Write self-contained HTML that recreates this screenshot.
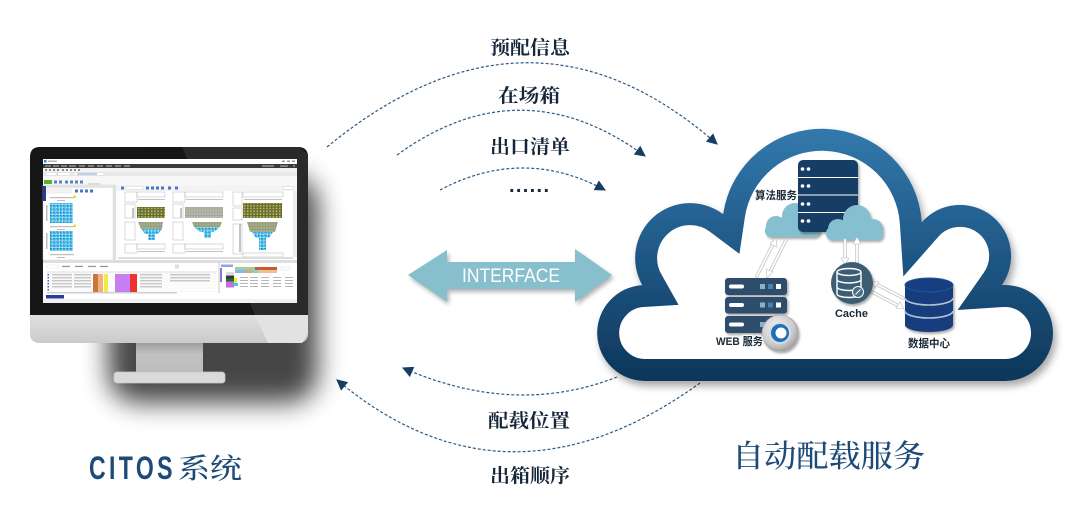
<!DOCTYPE html>
<html><head><meta charset="utf-8"><style>
html,body{margin:0;padding:0;background:#fff;width:1065px;height:527px;overflow:hidden}
svg{display:block}
</style></head><body>
<svg width="1065" height="527" viewBox="0 0 1065 527" xmlns="http://www.w3.org/2000/svg">
<defs>
<filter id="blur" x="-50%" y="-50%" width="200%" height="200%"><feGaussianBlur stdDeviation="13"/></filter>
<filter id="blur2" x="-20%" y="-20%" width="140%" height="140%"><feGaussianBlur stdDeviation="2"/></filter>
<filter id="ds" x="-10%" y="-10%" width="125%" height="130%"><feDropShadow dx="3" dy="5" stdDeviation="4" flood-color="#000" flood-opacity="0.35"/></filter>
<filter id="ds2" x="-20%" y="-20%" width="150%" height="150%"><feDropShadow dx="1.5" dy="2" stdDeviation="1.2" flood-color="#000" flood-opacity="0.35"/></filter>
<linearGradient id="cg" gradientUnits="userSpaceOnUse" x1="0" y1="129" x2="0" y2="381">
<stop offset="0" stop-color="#3279ab"/><stop offset="0.45" stop-color="#215b8a"/><stop offset="1" stop-color="#0d365a"/></linearGradient>
<linearGradient id="chin" x1="0" y1="0" x2="0" y2="1"><stop offset="0" stop-color="#e0e0e0"/><stop offset="1" stop-color="#cacaca"/></linearGradient>
<linearGradient id="neck" x1="0" y1="0" x2="0" y2="1"><stop offset="0" stop-color="#9e9e9e"/><stop offset="0.4" stop-color="#c2c2c2"/><stop offset="1" stop-color="#bcbcbc"/></linearGradient>
<radialGradient id="btn" cx="0.4" cy="0.35" r="0.7"><stop offset="0" stop-color="#f4f4f4"/><stop offset="0.7" stop-color="#c8c8c8"/><stop offset="1" stop-color="#9a9a9a"/></radialGradient>
<marker id="ah" viewBox="0 0 10 10" refX="9" refY="5" markerWidth="12" markerHeight="11" markerUnits="userSpaceOnUse" orient="auto"><path d="M0,0 L10,5 L0,10 z" fill="#163e62" stroke="none"/></marker>
<clipPath id="cc"><path d="M646 381 A48 48 0 0 1 642.2 285.1 A55 55 0 0 1 723.1 214.1 A100 100 0 0 1 921.8 222.2 A51 51 0 0 1 1001.9 285.1 A48 48 0 1 1 1005 381 Z"/></clipPath>
<pattern id="pc" width="3.3" height="3.3" patternUnits="userSpaceOnUse"><rect width="3.3" height="3.3" fill="#fff"/><rect x="0.3" y="0.3" width="2.8" height="2.8" fill="#2ab5e5"/><rect x="0.3" y="0.3" width="1.2" height="1.2" fill="#1a6cb5"/></pattern>
<pattern id="po" width="3.2" height="2.8" patternUnits="userSpaceOnUse"><rect width="3.2" height="2.8" fill="#5e5e22"/><rect x="0.3" y="0.3" width="2.5" height="2" fill="#9a9a40"/><rect x="0.8" y="0.8" width="1" height="1" fill="#e0d840"/><rect x="2" y="0.8" width="0.8" height="1" fill="#3a70c0"/></pattern>
<pattern id="pg" width="3.2" height="2.8" patternUnits="userSpaceOnUse"><rect width="3.2" height="2.8" fill="#9a9a94"/><rect x="0.3" y="0.3" width="2.5" height="2" fill="#cfcfc8"/><rect x="1" y="0.8" width="1" height="1" fill="#8a8a50"/></pattern>
<pattern id="py" width="3.2" height="2.8" patternUnits="userSpaceOnUse"><rect width="3.2" height="2.8" fill="#8c8c60"/><rect x="0.3" y="0.3" width="2.5" height="2" fill="#c8c890"/><rect x="1" y="0.8" width="1" height="1" fill="#3a80c8"/></pattern>
</defs>

<!-- ============ MONITOR ============ -->
<rect x="108" y="175" width="210" height="228" rx="30" fill="#000" opacity="0.72" filter="url(#blur)"/>
<path d="M30 157 Q30 147 40 147 H298 Q308 147 308 157 V315 H30 Z" fill="#161616"/>
<polygon points="182,147 299,147 308,154 308,315 255,315" fill="#2a2a2a"/>
<path d="M30 315 H308 V333 Q308 343 298 343 H40 Q30 343 30 333 Z" fill="url(#chin)"/>
<polygon points="255,315 308,315 308,333 302,343 268,343" fill="#e2e2e2"/>
<rect x="136" y="343" width="67" height="29" fill="url(#neck)"/>
<rect x="114" y="372" width="111" height="11" rx="3" fill="#dadada" stroke="#c6c6c6" stroke-width="0.8"/>

<!-- screen -->
<rect x="43" y="159" width="254" height="144" fill="#fff"/>
<rect x="44" y="160" width="2.5" height="2.5" fill="#3a7bd5"/>
<rect x="48" y="160.6" width="9" height="1.3" fill="#aaa"/>
<rect x="282" y="160.6" width="3" height="1.3" fill="#888"/><rect x="287" y="160.6" width="3" height="1.3" fill="#888"/><rect x="292" y="160.6" width="3" height="1.3" fill="#888"/>
<rect x="43" y="164" width="254" height="4" fill="#3b3b3b"/>
<g fill="#9a9a9a">
<rect x="45" y="165.3" width="6" height="1.4"/><rect x="53" y="165.3" width="6" height="1.4"/><rect x="61" y="165.3" width="6" height="1.4"/><rect x="69" y="165.3" width="7" height="1.4"/><rect x="79" y="165.3" width="6" height="1.4"/><rect x="88" y="165.3" width="6" height="1.4"/><rect x="97" y="165.3" width="6" height="1.4"/><rect x="106" y="165.3" width="6" height="1.4"/><rect x="115" y="165.3" width="6" height="1.4"/><rect x="124" y="165.3" width="6" height="1.4"/><rect x="262" y="165.3" width="12" height="1.4"/><rect x="280" y="165.3" width="8" height="1.4"/><rect x="293" y="165.3" width="2" height="1.4"/>
</g>
<rect x="43" y="168" width="254" height="4" fill="#f2f2f2"/>
<g fill="#8a8a8a"><rect x="45" y="169" width="2" height="2"/><rect x="49" y="169" width="2" height="2"/><rect x="53" y="169" width="2" height="2"/><rect x="57" y="169" width="2" height="2"/><rect x="62" y="169" width="2" height="2"/><rect x="66" y="169" width="2" height="2"/><rect x="70" y="169" width="2" height="2"/><rect x="74" y="169" width="2" height="2"/><rect x="78" y="169" width="2" height="2"/></g>
<rect x="43" y="172" width="254" height="4" fill="#e9e9e9"/>
<rect x="46" y="172.5" width="10" height="3" fill="#fff" stroke="#bbb" stroke-width="0.3"/>
<rect x="58" y="172.5" width="12" height="3" fill="#fff" stroke="#bbb" stroke-width="0.3"/>
<rect x="74" y="172.5" width="30" height="3" fill="#fff" stroke="#bbb" stroke-width="0.3"/><rect x="77" y="173.5" width="20" height="1" fill="#7aa0e0"/>
<rect x="43" y="176" width="254" height="9" fill="#f7f7f7"/>
<rect x="44" y="180" width="8" height="4" fill="#55b52a"/>
<g fill="#5a7fc8"><rect x="54" y="180.5" width="3" height="3"/><rect x="59" y="180.5" width="3" height="3"/><rect x="65" y="180.5" width="3" height="3"/><rect x="70" y="180.5" width="3" height="3"/><rect x="75" y="180.5" width="3" height="3"/><rect x="80" y="180.5" width="3" height="3"/></g>
<!-- left panel -->
<rect x="43" y="185" width="70" height="75" fill="#fff" stroke="#cfcfcf" stroke-width="0.4"/>
<rect x="43" y="185" width="70" height="3" fill="#e4e4e4"/>
<rect x="43" y="186" width="3" height="15" fill="#2a3aa0"/>
<rect x="47" y="189" width="24" height="4" fill="#f4f4f4" stroke="#ccc" stroke-width="0.3"/>
<g fill="#4a74c8"><rect x="75" y="189.5" width="3" height="3"/><rect x="80" y="189.5" width="3" height="3"/><rect x="85" y="189.5" width="3" height="3"/><rect x="90" y="189.5" width="3" height="3"/></g>
<rect x="88" y="183" width="12" height="2.5" fill="#ddd"/>
<g fill="#bbb"><rect x="50" y="197" width="24" height="1.2"/><rect x="50" y="226" width="24" height="1.2"/><rect x="50" y="254" width="24" height="1.2"/><rect x="57" y="200" width="8" height="1"/><rect x="57" y="229" width="8" height="1"/><rect x="57" y="257" width="8" height="1"/><rect x="46" y="205" width="1.5" height="16"/><rect x="46" y="233" width="1.5" height="16"/></g>
<rect x="50" y="203" width="23" height="20" fill="url(#pc)"/>
<rect x="50" y="231" width="23" height="20" fill="url(#pc)"/>
<rect x="73.5" y="195.5" width="2.5" height="2.5" fill="#f0e000"/><rect x="73.5" y="224.5" width="2.5" height="2.5" fill="#f0e000"/>
<rect x="113" y="185" width="3" height="75" fill="#e0e0e0"/>
<!-- right area -->
<rect x="116" y="185" width="181" height="6" fill="#f3f3f3"/>
<g fill="#4a74c8"><rect x="121" y="186.5" width="3" height="3"/><rect x="146" y="186.5" width="3" height="3"/><rect x="151" y="186.5" width="3" height="3"/><rect x="156" y="186.5" width="3" height="3"/><rect x="161" y="186.5" width="3" height="3"/><rect x="168" y="186.5" width="3" height="3"/><rect x="175" y="186.5" width="3" height="3"/></g>
<rect x="126" y="186.3" width="17" height="3" fill="#fff" stroke="#bbb" stroke-width="0.3"/>
<rect x="283" y="186.5" width="10" height="3" fill="#fff" stroke="#bbb" stroke-width="0.3"/>
<g fill="none" stroke="#b5b5b5" stroke-width="0.5">
<rect x="125" y="192" width="12" height="10"/><rect x="137" y="192" width="28" height="5"/><rect x="125" y="204" width="10" height="14"/><rect x="125" y="222" width="10" height="18"/><rect x="125" y="244" width="12" height="9"/><rect x="137" y="244" width="28" height="5"/>
<rect x="173" y="192" width="12" height="10"/><rect x="185" y="192" width="38" height="5"/><rect x="173" y="204" width="10" height="14"/><rect x="173" y="222" width="10" height="18"/><rect x="173" y="244" width="12" height="9"/><rect x="185" y="244" width="38" height="5"/>
<rect x="233" y="192" width="9" height="14"/><rect x="243" y="192" width="40" height="5"/><rect x="233" y="208" width="9" height="12"/><rect x="233" y="224" width="9" height="30"/><rect x="243" y="253" width="40" height="4"/>
</g>
<g fill="#c4c4c4"><rect x="138" y="199" width="27" height="1"/><rect x="186" y="199" width="37" height="1"/><rect x="244" y="199" width="38" height="1"/><rect x="138" y="251" width="27" height="1"/><rect x="186" y="251" width="37" height="1"/><rect x="132" y="208" width="2" height="10"/><rect x="180" y="208" width="2" height="10"/><rect x="239" y="224" width="2" height="28"/></g>
<rect x="137" y="207" width="28" height="11" fill="url(#po)"/>
<rect x="185" y="207" width="38" height="11" fill="url(#pg)"/>
<rect x="243" y="203" width="39" height="15" fill="url(#po)"/>
<polygon points="138,222 163,222 162,229 141,229" fill="url(#py)"/>
<polygon points="141,229 162,229 158,234 155,234 155,240 148,240 148,234 145,234" fill="url(#pc)"/>
<polygon points="192,222 222,222 220,227 194,227" fill="url(#py)"/>
<polygon points="194,227 220,227 214,232 211,232 211,238 204,238 204,232 200,232" fill="url(#pc)"/>
<polygon points="247,222 278,222 275,232 250,232" fill="url(#py)"/>
<polygon points="252,232 273,232 269,238 266,238 266,250 259,250 259,238 256,238" fill="url(#pc)"/>
<rect x="293" y="191" width="4" height="66" fill="#ececec"/>
<rect x="118" y="257" width="175" height="2" fill="#ddd"/>
<!-- bottom -->
<rect x="43" y="260" width="254" height="3" fill="#dedede"/>
<rect x="47" y="265" width="12" height="3" fill="#fff" stroke="#ccc" stroke-width="0.3"/>
<g fill="#999"><rect x="62" y="265.8" width="8" height="1.3"/><rect x="75" y="265.8" width="8" height="1.3"/><rect x="88" y="265.8" width="8" height="1.3"/><rect x="100" y="265.8" width="8" height="1.3"/></g>
<rect x="175" y="264.5" width="4" height="4" fill="#ddd"/>
<rect x="47" y="271" width="170" height="2.5" fill="#eee"/>
<g fill="none" stroke="#e2e2e2" stroke-width="0.4"><line x1="47" y1="276" x2="217" y2="276"/><line x1="47" y1="279" x2="217" y2="279"/><line x1="47" y1="282" x2="217" y2="282"/><line x1="47" y1="285" x2="217" y2="285"/><line x1="47" y1="288" x2="217" y2="288"/><line x1="47" y1="291" x2="217" y2="291"/></g>
<g fill="#3a5fc8"><rect x="47.5" y="274" width="1.5" height="1.5"/><rect x="47.5" y="277" width="1.5" height="1.5"/><rect x="47.5" y="280" width="1.5" height="1.5"/><rect x="47.5" y="283" width="1.5" height="1.5"/><rect x="47.5" y="286" width="1.5" height="1.5"/><rect x="47.5" y="289" width="1.5" height="1.5"/></g>
<g fill="#b0b0b0"><rect x="52" y="274.3" width="20" height="1"/><rect x="52" y="277.3" width="20" height="1"/><rect x="52" y="280.3" width="20" height="1"/><rect x="52" y="283.3" width="20" height="1"/><rect x="52" y="286.3" width="20" height="1"/><rect x="74" y="274.3" width="17" height="1"/><rect x="74" y="277.3" width="17" height="1"/><rect x="74" y="280.3" width="17" height="1"/><rect x="74" y="283.3" width="17" height="1"/><rect x="74" y="286.3" width="17" height="1"/><rect x="140" y="274.3" width="22" height="1"/><rect x="140" y="277.3" width="22" height="1"/><rect x="140" y="280.3" width="22" height="1"/><rect x="140" y="283.3" width="22" height="1"/><rect x="140" y="286.3" width="22" height="1"/><rect x="170" y="274.3" width="40" height="1"/><rect x="170" y="277.3" width="40" height="1"/><rect x="170" y="280.3" width="40" height="1"/></g>
<rect x="93" y="274" width="5" height="18" fill="#c8783c"/>
<rect x="98" y="274" width="5" height="18" fill="#f4b07a"/>
<rect x="104" y="274" width="4" height="18" fill="#ecec44"/>
<rect x="115" y="274" width="15" height="18" fill="#c87ef0"/>
<rect x="130" y="274" width="7" height="18" fill="#ee3232"/>
<rect x="47" y="292" width="130" height="1.5" fill="#d0d0d0"/>
<rect x="218" y="263" width="2" height="30" fill="#e4e4e4"/>
<rect x="221" y="264.5" width="12" height="2.5" fill="#8aa4e8"/>
<rect x="220" y="268" width="2" height="14" fill="#7a7ae0"/>
<rect x="235" y="267" width="20" height="3" fill="#9ccf9c"/>
<rect x="255" y="267" width="22" height="3" fill="#c0602c"/>
<rect x="235" y="270" width="12" height="3" fill="#8ab4f0"/>
<rect x="247" y="270" width="6" height="3" fill="#f0a060"/>
<rect x="253" y="270" width="5" height="3" fill="#60e0f0"/>
<rect x="258" y="270" width="19" height="3" fill="#f2c090"/>
<rect x="281" y="267" width="9" height="3" fill="#fff" stroke="#bbb" stroke-width="0.3"/>
<rect x="226" y="272" width="8" height="3" fill="#ddd"/>
<rect x="226" y="275.5" width="8" height="3" fill="#333"/>
<rect x="226" y="278.5" width="8" height="3" fill="#2e6a2e"/>
<rect x="234" y="278" width="3" height="5" fill="#f0f020"/>
<rect x="226" y="281.5" width="8" height="6" fill="#c070e0"/>
<rect x="234" y="283" width="4" height="3" fill="#30d0f0"/>
<g fill="#b5b5b5"><rect x="240" y="277" width="8" height="1"/><rect x="250" y="277" width="8" height="1"/><rect x="261" y="277" width="8" height="1"/><rect x="273" y="277" width="8" height="1"/><rect x="285" y="277" width="8" height="1"/><rect x="240" y="280" width="8" height="1"/><rect x="250" y="280" width="8" height="1"/><rect x="261" y="280" width="8" height="1"/><rect x="273" y="280" width="8" height="1"/><rect x="285" y="280" width="8" height="1"/><rect x="240" y="283" width="8" height="1"/><rect x="250" y="283" width="8" height="1"/><rect x="261" y="283" width="8" height="1"/><rect x="273" y="283" width="8" height="1"/><rect x="285" y="283" width="8" height="1"/><rect x="240" y="286" width="8" height="1"/><rect x="250" y="286" width="8" height="1"/><rect x="261" y="286" width="8" height="1"/><rect x="273" y="286" width="8" height="1"/><rect x="285" y="286" width="8" height="1"/></g>
<rect x="46" y="295" width="18" height="3.5" fill="#283c9c"/>
<rect x="43" y="299" width="254" height="4" fill="#f0f0f0"/>

<!-- ============ ARCS ============ -->
<g fill="none" stroke="#2a5a85" stroke-width="1.2" stroke-dasharray="3 2">
<path d="M327 147 Q530 -20 717 144" marker-end="url(#ah)"/>
<path d="M397 155 Q521 65 645 156" marker-end="url(#ah)"/>
<path d="M440 190 Q523 146 605 190" marker-end="url(#ah)"/>
<path d="M617 377 Q515 417 403 368" marker-end="url(#ah)"/>
<path d="M700 383 Q507 522 337 380" marker-end="url(#ah)"/>
</g>

<g font-family="'Liberation Serif','Noto Serif CJK SC',serif" font-weight="700" font-size="19" fill="#16263a">
<text x="490" y="54" textLength="80" lengthAdjust="spacingAndGlyphs">预配信息</text>
<text x="498" y="102" textLength="62" lengthAdjust="spacingAndGlyphs">在场箱</text>
<text x="490" y="153" textLength="80" lengthAdjust="spacingAndGlyphs">出口清单</text>
<text x="488" y="427" textLength="82" lengthAdjust="spacingAndGlyphs">配载位置</text>
<text x="490" y="482" textLength="80" lengthAdjust="spacingAndGlyphs">出箱顺序</text>
</g>
<text x="509" y="192" font-family="'Liberation Sans',sans-serif" font-weight="700" font-size="20" fill="#16263a" textLength="40" lengthAdjust="spacing">......</text>

<!-- ============ INTERFACE ARROW ============ -->
<polygon points="408,275 447,250 447,262 575,262 575,249 612,275 575,302 575,289 447,289 447,302" fill="#000" opacity="0.3" transform="translate(2,3)" filter="url(#blur2)"/>
<polygon points="408,275 447,250 447,262 575,262 575,249 612,275 575,302 575,289 447,289 447,302" fill="#87bfcd"/>
<text x="462" y="282" font-family="'Liberation Sans',sans-serif" font-size="19" fill="#fff" textLength="98" lengthAdjust="spacingAndGlyphs">INTERFACE</text>

<!-- ============ CLOUD ============ -->
<g filter="url(#ds)">
<path d="M646 381 A48 48 0 0 1 642.2 285.1 A55 55 0 0 1 723.1 214.1 A100 100 0 0 1 921.8 222.2 A51 51 0 0 1 1001.9 285.1 A48 48 0 1 1 1005 381 Z" fill="#fff" stroke="url(#cg)" stroke-width="44" clip-path="url(#cc)"/>
</g>

<!-- small clouds and tower -->
<g fill="#86bfcf" filter="url(#ds2)">
<circle cx="776" cy="226" r="10"/><circle cx="795" cy="216" r="13"/><circle cx="810" cy="225" r="10"/><rect x="765" y="224" width="55" height="13" rx="6"/>
</g>
<g filter="url(#ds2)">
<rect x="798" y="160" width="60" height="72" rx="5" fill="#133d66"/>
</g>
<g stroke="#fff" stroke-width="1"><line x1="798" y1="177.5" x2="858" y2="177.5"/><line x1="798" y1="195" x2="858" y2="195"/><line x1="798" y1="212.5" x2="858" y2="212.5"/></g>
<g fill="#fff"><circle cx="802.5" cy="169" r="1.8"/><circle cx="808.5" cy="169" r="1.8"/><circle cx="802.5" cy="186" r="1.8"/><circle cx="808.5" cy="186" r="1.8"/><circle cx="802.5" cy="204" r="1.8"/><circle cx="808.5" cy="204" r="1.8"/><circle cx="802.5" cy="221" r="1.8"/><circle cx="808.5" cy="221" r="1.8"/></g>
<g fill="#86bfcf" filter="url(#ds2)">
<circle cx="838" cy="229" r="10"/><circle cx="857" cy="219" r="14"/><circle cx="873" cy="229" r="10"/><rect x="826" y="227" width="57" height="13" rx="6"/>
</g>

<!-- white double arrows -->
<g stroke-linecap="round">
<g stroke="#c4c4c4" stroke-width="3.4"><line x1="757" y1="276" x2="774" y2="242"/><line x1="786" y1="240" x2="769" y2="274"/><line x1="845" y1="240" x2="845" y2="260"/><line x1="857" y1="262" x2="857" y2="242"/><line x1="876" y1="284" x2="903" y2="298"/><line x1="872" y1="292" x2="899" y2="306"/></g>
<g stroke="#fff" stroke-width="1.8"><line x1="757" y1="276" x2="774" y2="242"/><line x1="786" y1="240" x2="769" y2="274"/><line x1="845" y1="240" x2="845" y2="260"/><line x1="857" y1="262" x2="857" y2="242"/><line x1="876" y1="284" x2="903" y2="298"/><line x1="872" y1="292" x2="899" y2="306"/></g>
</g>
<g fill="#fff" stroke="#bdbdbd" stroke-width="0.6">
<polygon points="776,238 777,247 770,244"/>
<polygon points="767,278 766,269 773,272"/>
<polygon points="845,265 841,258 849,258"/>
<polygon points="857,237 853,244 861,244"/>
<polygon points="871,281 879,282 875,288"/>
<polygon points="904,309 896,308 900,302"/>
</g>

<!-- WEB server -->
<g filter="url(#ds2)" fill="#2e4e6c">
<rect x="725" y="278" width="62" height="17" rx="3"/>
<rect x="725" y="297" width="62" height="16.5" rx="3"/>
<rect x="725" y="316" width="62" height="17" rx="3"/>
</g>
<g fill="#fff"><rect x="729" y="284.5" width="15" height="4" rx="2"/><rect x="729" y="303" width="15" height="4" rx="2"/><rect x="729" y="322.5" width="15" height="4" rx="2"/></g>
<g><rect x="760" y="284" width="5" height="5" fill="#80b6c8"/><rect x="768" y="284" width="5" height="5" fill="#4d80ac"/><rect x="776" y="284" width="5" height="5" fill="#fff"/>
<rect x="760" y="302.5" width="5" height="5" fill="#80b6c8"/><rect x="768" y="302.5" width="5" height="5" fill="#4d80ac"/><rect x="776" y="302.5" width="5" height="5" fill="#fff"/>
<rect x="760" y="322" width="5" height="5" fill="#80b6c8"/></g>
<g filter="url(#ds2)"><circle cx="780" cy="333" r="18" fill="url(#btn)" stroke="#9a9a9a" stroke-width="0.6"/></g>
<circle cx="780" cy="333" r="11" fill="#d4dbe2"/>
<circle cx="780" cy="333" r="9" fill="#1f6fb8"/>
<circle cx="781" cy="333" r="5.5" fill="#fff"/>

<!-- Cache -->
<g filter="url(#ds2)"><circle cx="852" cy="283" r="21" fill="#3c5d74"/></g>
<g fill="none" stroke="#fff" stroke-width="1.4">
<ellipse cx="849" cy="272" rx="12" ry="3.5"/>
<path d="M837 272 V294 A12 3.5 0 0 0 861 294 V272"/>
<path d="M837 279.5 A12 3.5 0 0 0 861 279.5"/>
<path d="M837 287 A12 3.5 0 0 0 861 287"/>
</g>
<circle cx="858" cy="292" r="5.5" fill="#4d6d84" stroke="#fff" stroke-width="1"/>
<path d="M855.5 294.5 L860.5 289.5" stroke="#fff" stroke-width="1"/>

<!-- DB -->
<g filter="url(#ds2)">
<path d="M905 285 A24 7 0 0 1 953 285 V325 A24 7 0 0 1 905 325 Z" fill="#123e7e"/>
</g>
<ellipse cx="929" cy="285" rx="24" ry="7" fill="#153f80" stroke="#2b5592" stroke-width="1"/>
<g fill="none" stroke="#b4c0d2" stroke-width="1.6">
<path d="M905 298 A24 7 0 0 0 953 298"/>
<path d="M905 311 A24 7 0 0 0 953 311"/>
</g>

<!-- cloud labels -->
<g font-family="'Liberation Sans','Noto Sans CJK SC',sans-serif" font-weight="700" font-size="11" fill="#1b2a38" stroke="#fff" stroke-width="2.2" paint-order="stroke" stroke-linejoin="round">
<text x="755" y="199" textLength="42" lengthAdjust="spacingAndGlyphs">算法服务</text>
<text x="716" y="345" textLength="47" lengthAdjust="spacingAndGlyphs">WEB 服务</text>
<text x="835" y="317" textLength="33" lengthAdjust="spacingAndGlyphs">Cache</text>
<text x="908" y="347" textLength="42" lengthAdjust="spacingAndGlyphs">数据中心</text>
</g>

<!-- titles -->
<g transform="translate(89,479) scale(0.72,1)">
<text x="0" y="0" font-family="'Liberation Sans',sans-serif" font-weight="700" font-size="32" fill="#1d4a77" textLength="116" lengthAdjust="spacing">CITOS</text>
</g>
<text x="178" y="478" font-family="'Liberation Serif','Noto Serif CJK SC',serif" font-weight="500" font-size="28" fill="#1d4a77" textLength="64" lengthAdjust="spacingAndGlyphs">系统</text>
<text x="732" y="467" font-family="'Liberation Serif','Noto Serif CJK SC',serif" font-weight="500" font-size="31" fill="#1d4a77" textLength="193" lengthAdjust="spacingAndGlyphs">自动配载服务</text>
</svg>
</body></html>
